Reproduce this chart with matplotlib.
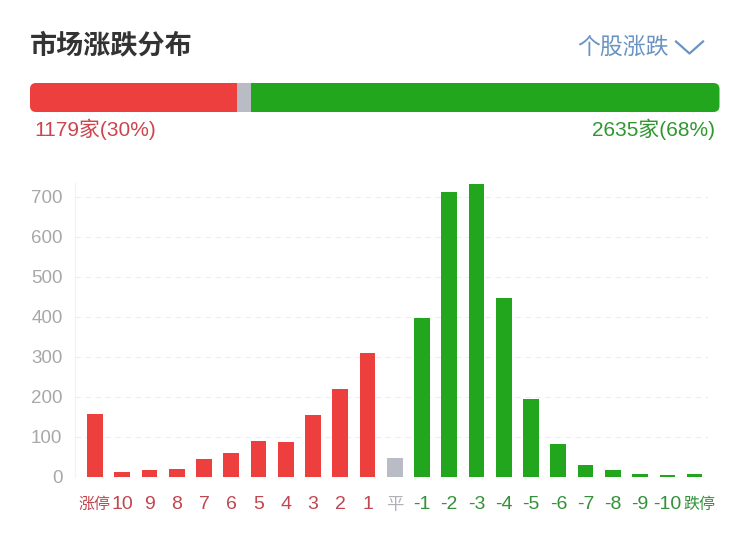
import matplotlib
matplotlib.use("Agg")
import matplotlib.pyplot as plt
from matplotlib.patches import FancyBboxPatch
from matplotlib.lines import Line2D
from matplotlib.transforms import ScaledTranslation

plt.rcParams['font.family'] = ['Liberation Sans', 'Noto Sans CJK SC', 'DejaVu Sans']

# ---- data ----
title = "市场涨跌分布"
selector = "个股涨跌"
categories = ['涨停', '10', '9', '8', '7', '6', '5', '4', '3', '2', '1', '平',
              '-1', '-2', '-3', '-4', '-5', '-6', '-7', '-8', '-9', '-10', '跌停']
counts = [158, 13, 17, 19, 45, 59, 89, 87, 155, 219, 310, 47,
          396, 711, 732, 447, 194, 82, 30, 17, 6, 4, 8]
up_count, down_count = 1179, 2635
ratio_pcts = [30, 2, 68]  # up / flat / down
yticks = [0, 100, 200, 300, 400, 500, 600, 700]

RED = '#EC3F3E'
GREEN = '#22A61D'
GRAY = '#B9BBC5'
RED_TXT = '#CC454D'
GREEN_TXT = '#2F972F'
TICK_RED = '#C0464F'
TICK_GREEN = '#33913A'
GRAY_TXT = '#B0B0B8'

W, H = 750, 545
fig = plt.figure(figsize=(W / 100, H / 100), dpi=100)
fig.patch.set_facecolor('white')

def fx(px):
    return px / W

def fy(py):
    return 1 - py / H

# ---- header ----
fig.text(fx(30), fy(45), title, fontsize=19.5, color='#333333',
         fontweight='bold', family=['Noto Sans CJK SC'], va='center', ha='left')
fig.text(fx(577), fy(47), selector, fontsize=16.5, color='#6A93C3',
         family=['Noto Sans CJK SC'], va='center', ha='left')
fig.add_artist(Line2D([fx(676), fx(689.5), fx(703)], [fy(41.5), fy(53.5), fy(41.5)],
                      transform=fig.transFigure, color='#6A93C3', lw=1.6))

# ---- ratio bar ----
bx0, bx1, by0, by1 = 30, 719.5, 83, 112
axr = fig.add_axes([fx(bx0), fy(by1), (bx1 - bx0) / W, (by1 - by0) / H])
axr.set_xlim(0, 100)
axr.set_ylim(0, 1)
axr.axis('off')
lefts = [0, ratio_pcts[0], ratio_pcts[0] + ratio_pcts[1]]
bars = axr.barh([0.5] * 3, ratio_pcts, left=lefts, height=1.0,
                color=[RED, GRAY, GREEN], edgecolor='none')
xunit_px = (bx1 - bx0) / 100.0
yunit_px = (by1 - by0) / 1.0
aspect = xunit_px / yunit_px
clip = FancyBboxPatch((0, 0), 100, 1, boxstyle="round,pad=0,rounding_size=%f" % (6 / xunit_px),
                      mutation_aspect=aspect, transform=axr.transData,
                      facecolor='none', edgecolor='none')
axr.add_patch(clip)
for b in bars:
    b.set_clip_path(clip)

fig.text(fx(34), fy(129), f"{up_count}家({ratio_pcts[0]}%)", fontsize=15, color=RED_TXT,
         va='center', ha='left')
fig.text(fx(715), fy(129), f"{down_count}家({ratio_pcts[2]}%)", fontsize=15, color=GREEN_TXT,
         va='center', ha='right')

# ---- histogram ----
ax = fig.add_axes([fx(75), fy(476.7), (708 - 75) / W, (476.7 - 182.7) / H])
x = list(range(len(categories)))
n_up = 11
colors = [RED] * n_up + [GRAY] + [GREEN] * (len(categories) - n_up - 1)
ax.bar(x, counts, width=0.575, color=colors, zorder=3)
ax.set_xlim(-0.73, 22.49)
ax.set_ylim(0, 735)
ax.set_yticks(yticks)
ax.set_yticklabels([str(v) for v in yticks])
ax.grid(axis='y', color='#EDEDED', linestyle=(0, (5, 4)), linewidth=0.8, zorder=0)
for s in ['top', 'right', 'bottom']:
    ax.spines[s].set_visible(False)
ax.spines['left'].set_color('#F2F2F2')
ax.tick_params(axis='y', length=0, pad=9, labelsize=13.5, labelcolor='#A8A8A8')
ax.tick_params(axis='x', length=0, pad=14)
ax.set_xticks(x)
ax.set_xticklabels(categories)
for i, lab in enumerate(ax.get_xticklabels()):
    c = TICK_RED if i < n_up else (GRAY_TXT if i == n_up else TICK_GREEN)
    lab.set_color(c)
    t = categories[i]
    if t in ('涨停', '跌停'):
        lab.set_fontsize(11.5)
        lab.set_family(['Noto Sans CJK SC'])
    elif t == '平':
        lab.set_fontsize(12.5)
        lab.set_family(['Noto Sans CJK SC'])
    else:
        lab.set_fontsize(14)
    if t == '跌停':
        lab.set_transform(lab.get_transform() + ScaledTranslation(5 / 100, 0, fig.dpi_scale_trans))
ax.set_facecolor('white')

fig.savefig('out.png', dpi=100, facecolor='white')
